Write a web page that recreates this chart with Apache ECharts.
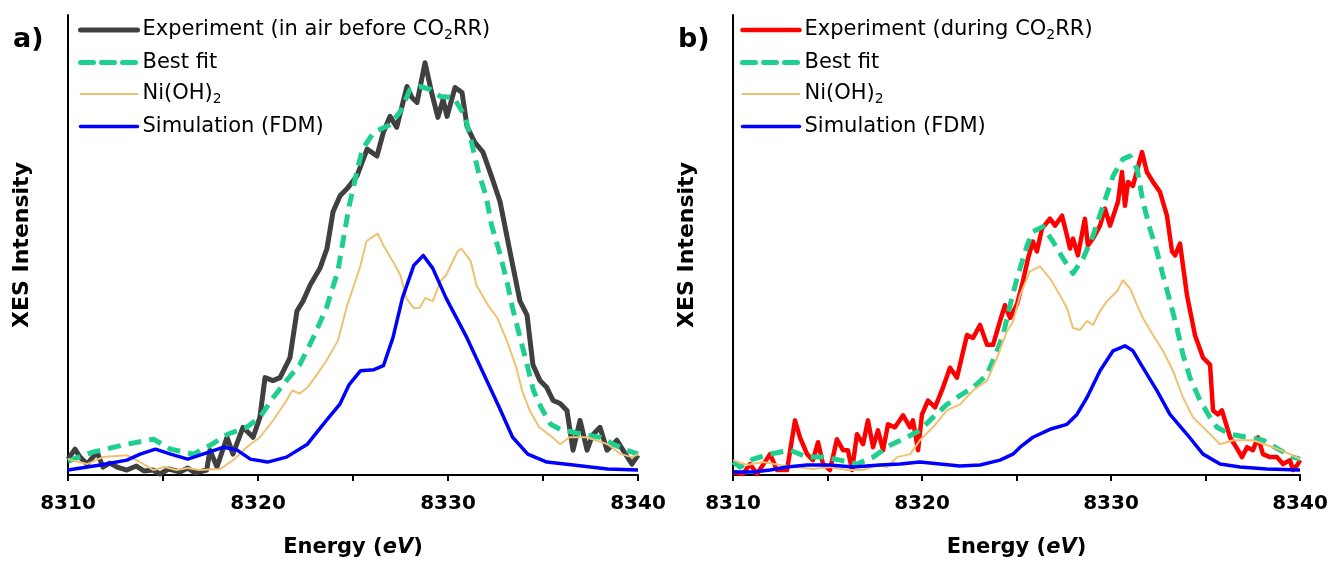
<!DOCTYPE html>
<html>
<head>
<meta charset="utf-8">
<script src="https://cdn.jsdelivr.net/npm/echarts@6/dist/echarts.min.js"></script>
<style>
html,body{margin:0;padding:0;background:#fff;}
#chart{width:1331px;height:563px;}
</style>
</head>
<body>
<div id="chart"></div>
<script>
// ---- Data (energy in eV, intensity in arbitrary units) ----
const xTicks = [8310, 8320, 8330, 8340];

const expA = [[8310.0,16],[8310.1,18],[8310.37,26],[8310.63,18],[8311.0,11],[8311.53,23],[8311.84,8],[8312.2,12],[8312.58,8],[8313.1,5],[8313.6,9],[8314.0,4],[8314.47,5],[8314.84,1],[8315.3,6],[8315.9,3],[8316.3,7],[8316.7,2],[8317.3,5],[8317.47,25],[8317.84,8],[8318.37,38],[8318.68,21],[8319.21,48],[8319.74,38],[8320.1,58],[8320.37,98],[8320.79,95],[8321.16,98],[8321.68,118],[8322.05,165],[8322.37,175],[8322.74,191],[8323.26,208],[8323.63,228],[8323.95,265],[8324.32,281],[8324.68,288],[8325.21,301],[8325.74,328],[8326.26,321],[8326.6,345],[8326.95,361],[8327.3,350],[8327.84,391],[8328.1,380],[8328.37,375],[8328.79,415],[8329.16,383],[8329.47,360],[8329.74,378],[8329.95,361],[8330.37,390],[8330.74,385],[8331.0,351],[8331.4,335],[8331.84,325],[8332.3,300],[8332.74,275],[8333.26,225],[8333.79,175],[8334.16,161],[8334.47,111],[8334.84,95],[8335.2,88],[8335.53,75],[8335.9,72],[8336.26,65],[8336.58,25],[8336.95,55],[8337.32,25],[8337.6,40],[8338.0,48],[8338.37,25],[8338.89,35],[8339.21,25],[8339.68,11],[8340.0,20]];

const fitA = [[8310.0,14],[8310.1,16],[8311.3,23],[8312.2,27],[8313.1,31],[8314.5,36],[8315.4,26],[8316.6,21],[8317.5,30],[8318.4,41],[8319.4,48],[8320.1,58],[8320.8,78],[8321.5,95],[8322.2,111],[8322.9,138],[8323.6,168],[8324.2,205],[8324.5,238],[8324.8,271],[8325.2,305],[8325.5,328],[8326.1,345],[8326.9,352],[8327.5,366],[8328.0,388],[8328.5,391],[8329.1,388],[8329.6,381],[8330.3,380],[8330.9,361],[8331.2,338],[8331.6,305],[8332.0,281],[8332.3,251],[8332.7,225],[8333.1,195],[8333.4,168],[8333.8,138],[8334.2,108],[8334.5,85],[8334.9,68],[8335.4,51],[8335.9,46],[8336.6,43],[8337.3,40],[8338.0,38],[8338.7,31],[8339.4,25],[8340.0,21]];

const nioA = [[8310.0,16],[8310.1,15],[8311.0,11],[8311.84,18],[8313.1,20],[8313.8,13],[8314.5,5],[8315.1,8],[8315.7,5],[8316.3,7],[8316.9,5],[8318.0,6],[8318.7,15],[8319.4,28],[8320.1,38],[8320.8,55],[8321.5,75],[8321.8,85],[8322.2,82],[8322.6,88],[8323.1,101],[8323.6,115],[8324.2,135],[8324.7,171],[8325.0,188],[8325.4,211],[8325.7,235],[8325.9,238],[8326.3,243],[8326.6,231],[8327.1,215],[8327.5,201],[8327.8,178],[8328.2,168],[8328.5,168],[8328.8,178],[8329.2,175],[8329.6,195],[8329.9,201],[8330.5,225],[8330.7,228],[8331.2,215],[8331.5,191],[8332.1,171],[8332.6,158],[8333.1,135],[8333.6,108],[8333.9,85],[8334.3,65],[8334.8,48],[8335.5,38],[8335.9,31],[8336.4,38],[8337.3,38],[8338.4,31],[8339.1,21],[8339.7,18],[8340.0,21]];

const simA = [[8310.0,5],[8311.7,10],[8313.1,15],[8313.8,21],[8314.6,26],[8315.4,21],[8316.3,16],[8317.1,21],[8318.2,28],[8318.9,25],[8319.6,16],[8320.5,13],[8321.5,18],[8322.6,31],[8323.6,55],[8324.3,71],[8324.8,91],[8325.4,105],[8326.1,106],[8326.6,110],[8327.1,138],[8327.6,178],[8328.2,211],[8328.7,221],[8329.2,208],[8329.9,178],[8331.0,138],[8331.8,105],[8332.7,68],[8333.4,38],[8334.2,21],[8335.2,13],[8336.6,10],[8338.4,6],[8340.0,5]];

const expB = [[8310.0,3],[8310.53,1],[8310.9,11],[8311.27,1],[8311.96,21],[8312.33,5],[8312.86,5],[8313.28,55],[8313.54,38],[8313.92,21],[8314.23,15],[8314.5,33],[8314.76,11],[8315.13,5],[8315.5,36],[8315.82,25],[8316.08,25],[8316.3,5],[8316.56,41],[8316.88,31],[8317.14,55],[8317.41,28],[8317.67,45],[8317.94,25],[8318.2,51],[8318.57,48],[8319.0,60],[8319.37,48],[8319.52,55],[8319.79,25],[8320.0,61],[8320.32,75],[8320.69,68],[8321.11,88],[8321.48,108],[8321.85,98],[8322.38,141],[8322.7,138],[8323.07,151],[8323.44,131],[8323.76,131],[8324.13,155],[8324.39,171],[8324.66,158],[8325.03,172],[8325.34,195],[8325.61,218],[8325.87,235],[8326.08,225],[8326.35,248],[8326.77,258],[8327.04,251],[8327.41,261],[8327.67,241],[8327.83,228],[8327.99,238],[8328.25,221],[8328.62,258],[8328.78,231],[8329.05,238],[8329.42,251],[8329.68,268],[8329.95,251],[8330.37,275],[8330.58,305],[8330.74,271],[8330.9,295],[8331.16,291],[8331.64,325],[8331.9,305],[8332.22,295],[8332.59,285],[8332.96,261],[8333.23,225],[8333.39,221],[8333.65,233],[8334.02,181],[8334.44,141],[8334.87,118],[8335.24,111],[8335.4,65],[8335.66,61],[8335.87,65],[8336.3,38],[8336.72,25],[8336.93,18],[8337.2,28],[8337.51,25],[8337.78,38],[8338.04,21],[8338.41,18],[8338.78,18],[8339.1,11],[8339.47,15],[8339.63,5],[8339.89,11],[8340.0,15]];

const fitB = [[8310.0,13],[8310.37,8],[8311.06,16],[8311.96,21],[8313.02,25],[8313.92,18],[8314.76,18],[8315.66,15],[8316.56,11],[8317.41,18],[8318.31,30],[8319.21,38],[8319.89,45],[8320.58,58],[8321.32,71],[8322.01,80],[8322.7,88],[8323.44,101],[8323.97,125],[8324.29,141],[8324.66,171],[8325.03,198],[8325.19,208],[8325.56,231],[8325.87,245],[8326.4,250],[8326.93,235],[8327.46,218],[8327.99,203],[8328.52,218],[8329.05,241],[8329.58,271],[8330.11,301],[8330.63,318],[8331.0,321],[8331.38,308],[8331.69,275],[8332.06,248],[8332.43,225],[8332.75,201],[8333.12,175],[8333.49,148],[8333.81,121],[8334.18,98],[8334.71,75],[8335.24,58],[8335.61,48],[8336.3,41],[8337.2,38],[8338.04,35],[8338.94,25],[8339.63,18],[8340.0,16]];

const nioB = [[8310.0,15],[8310.74,10],[8311.59,13],[8312.49,10],[8313.39,8],[8314.23,6],[8315.13,8],[8316.03,5],[8316.88,5],[8317.62,10],[8318.15,8],[8318.68,18],[8319.37,21],[8319.89,35],[8320.58,48],[8321.32,65],[8322.01,71],[8322.7,85],[8323.44,95],[8323.97,118],[8324.5,145],[8324.81,154],[8325.19,181],[8325.71,205],[8326.24,210],[8326.77,198],[8327.3,181],[8327.67,168],[8327.99,148],[8328.36,146],[8328.73,155],[8329.05,151],[8329.42,165],[8329.79,175],[8330.32,185],[8330.63,196],[8331.0,188],[8331.38,171],[8331.69,158],[8332.22,141],[8332.75,125],[8333.28,105],[8333.81,78],[8334.34,58],[8334.87,48],[8335.4,38],[8335.77,31],[8336.46,35],[8337.51,35],[8338.57,28],[8339.47,21],[8340.0,16]];

const simB = [[8310.0,3],[8311.06,3],[8311.96,5],[8312.86,8],[8313.92,10],[8315.13,10],[8316.35,8],[8317.78,10],[8318.84,11],[8319.89,13],[8320.95,11],[8322.01,9],[8323.07,10],[8324.13,15],[8324.81,21],[8325.19,28],[8325.87,38],[8326.77,46],[8327.67,51],[8328.2,61],[8328.73,78],[8329.42,105],[8330.11,125],[8330.74,130],[8331.16,125],[8331.69,108],[8332.43,85],[8333.12,61],[8334.02,41],[8334.87,21],[8335.77,11],[8336.83,8],[8338.25,6],[8340.0,5]];

// ---- Chart ----
const FONT = '"DejaVu Sans", "Liberation Sans", Arial, sans-serif';
const COL = {expA:'#404040', expB:'#ff0000', fit:'#1fcf8d', nio:'#eec272', sim:'#0000ff'};
const NAMES = {
  expA:'Experiment (in air before CO2RR)',
  expB:'Experiment (during CO2RR)',
  fit:'Best fit', nio:'Ni(OH)2', sim:'Simulation (FDM)'
};
const legendRich = {
  a:{fontSize:21, fontFamily:FONT, color:'#000', lineHeight:24},
  s:{fontSize:14, fontFamily:FONT, color:'#000', verticalAlign:'bottom', padding:[9,0,0,0], lineHeight:24}
};
function legendFmt(name){
  if(name===NAMES.expA) return '{a|Experiment (in air before CO}{s|2}{a|RR)}';
  if(name===NAMES.expB) return '{a|Experiment (during CO}{s|2}{a|RR)}';
  if(name===NAMES.nio) return '{a|Ni(OH)}{s|2}';
  return '{a|'+name+'}';
}

function xAxis(gi){
  return {
    type:'value', gridIndex:gi, min:8310, max:8340, interval:5,
    axisLine:{show:true, onZero:false, lineStyle:{color:'#000', width:2}},
    axisTick:{show:true, inside:false, length:6, lineStyle:{color:'#000', width:2}},
    splitLine:{show:false},
    axisLabel:{margin:19, fontSize:20, fontWeight:'bold', fontFamily:FONT, color:'#000',
      formatter:function(v){ return xTicks.indexOf(v)>=0 ? String(v) : ''; }},
    name:'Energy ({i|eV})', nameLocation:'middle', nameGap:62,
    nameTextStyle:{fontSize:21, fontWeight:'bold', fontFamily:FONT, color:'#000',
      rich:{i:{fontSize:21, fontWeight:'bold', fontStyle:'italic', fontFamily:FONT, color:'#000'}}}
  };
}
function yAxis(gi){
  return {
    type:'value', gridIndex:gi, min:0, max:463,
    axisLine:{show:true, lineStyle:{color:'#000', width:2}},
    axisTick:{show:false}, axisLabel:{show:false}, splitLine:{show:false},
    name:'XES Intensity', nameLocation:'middle', nameGap:35,
    nameTextStyle:{fontSize:22, fontWeight:'bold', fontFamily:FONT, color:'#000'}
  };
}
function ser(name, data, gi, color, width, dashed, z){
  return {
    name:name, type:'line', xAxisIndex:gi, yAxisIndex:gi, data:data,
    symbol:'none', smooth:false, z:z, animation:false,
    lineStyle:{color:color, width:width, type: dashed ? [13,8] : 'solid', cap: 'butt', join:'round'},
    itemStyle:{color:color}
  };
}
function legend(left, first){
  return {orient:'vertical', left:left, top:14, itemWidth:57, itemHeight:14, itemGap:10,
    data:[first, NAMES.fit, NAMES.nio, NAMES.sim], formatter:legendFmt,
    itemStyle:{opacity:0}, lineStyle:{width:'inherit', cap:'round'},
    textStyle:{rich:legendRich}, selectedMode:false};
}

const chart = echarts.init(document.getElementById('chart'), null, {renderer:'canvas'});
chart.setOption({
  backgroundColor:'#fff',
  animation:false,
  title:[
    {text:'a)', left:8, top:21, textStyle:{fontSize:27, fontWeight:'bold', fontFamily:FONT, color:'#000'}},
    {text:'b)', left:673, top:21, textStyle:{fontSize:27, fontWeight:'bold', fontFamily:FONT, color:'#000'}}
  ],
  grid:[
    {left:68, top:15, width:570, height:463},
    {left:733, top:15, width:567, height:463}
  ],
  legend:[legend(73, NAMES.expA), legend(735, NAMES.expB)],
  xAxis:[xAxis(0), xAxis(1)],
  yAxis:[yAxis(0), yAxis(1)],
  series:[
    ser(NAMES.expA, expA, 0, COL.expA, 5, false, 2),
    ser(NAMES.fit, fitA, 0, COL.fit, 5, true, 3),
    ser(NAMES.nio, nioA, 0, COL.nio, 2, false, 4),
    ser(NAMES.sim, simA, 0, COL.sim, 3.5, false, 5),
    ser(NAMES.expB, expB, 1, COL.expB, 4.5, false, 2),
    ser(NAMES.fit, fitB, 1, COL.fit, 5, true, 3),
    ser(NAMES.nio, nioB, 1, COL.nio, 2, false, 4),
    ser(NAMES.sim, simB, 1, COL.sim, 3.5, false, 5)
  ]
});
</script>
</body>
</html>
